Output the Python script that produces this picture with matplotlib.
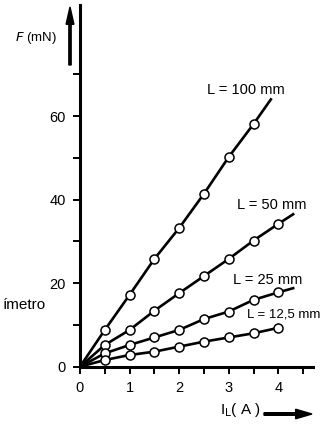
import numpy as np
import matplotlib.pyplot as plt

plt.rcParams['font.family'] = ['Liberation Sans', 'DejaVu Sans']

# Corriente medida (A) y fuerza (mN) para cada longitud de conductor
corriente = [0.5, 1.0, 1.5, 2.0, 2.5, 3.0, 3.5, 4.0]
f_100 = [8.8, 17.2, 25.8, 33.2, 41.4, 50.2, 58.1]
f_50 = [5.2, 8.8, 13.4, 17.6, 21.7, 25.8, 30.2, 34.2]
f_25 = [3.2, 5.2, 7.0, 8.8, 11.4, 13.2, 16.0, 17.8]
f_12 = [1.6, 2.8, 3.6, 4.8, 6.0, 7.0, 8.0, 9.3]

# extremo de cada recta ajustada (I, F)
fin_100 = (3.85, 64.0)
fin_50 = (4.3, 36.5)
fin_25 = (4.3, 18.8)
fin_12 = (4.0, 9.3)

series = [
    (f_100, fin_100, "L = 100 mm", (3.35, 66.3), 'center', 10.5),
    (f_50, fin_50, "L = 50 mm", (3.86, 38.7), 'center', 10.5),
    (f_25, fin_25, "L = 25 mm", (3.78, 20.8), 'center', 10.5),
    (f_12, fin_12, "L = 12,5 mm", (3.36, 12.6), 'left', 9.5),
]

fig = plt.figure(figsize=(3.27, 4.32), dpi=100)
ax = fig.add_axes([80/327, 65.3/432, 233/327, 361.7/432])

for fuerza, fin, etiqueta, pos, ha, fs in series:
    xs = [0] + corriente[:len(fuerza)] + [fin[0]]
    ys = [0] + fuerza + [fin[1]]
    ax.plot(xs, ys, color='black', lw=1.9, marker='o', ms=6.5,
            mfc='white', mec='black', mew=1.1,
            markevery=list(range(1, len(xs) - 1)))
    ax.text(pos[0], pos[1], etiqueta, ha=ha, va='center', fontsize=fs,
            clip_on=False)

ax.set_xlim(0, 4.7)
ax.set_ylim(0, 86.6)
ax.set_xticks(np.arange(0, 4.6, 0.5))
ax.set_xticklabels(['0', '', '1', '', '2', '', '3', '', '4', ''])
ax.set_yticks(np.arange(0, 71, 10))
ax.set_yticklabels(['0', '', '20', '', '40', '', '60', ''])
ax.tick_params(direction='out', length=5, width=1.4, labelsize=10.5, pad=5)
ax.spines['top'].set_visible(False)
ax.spines['right'].set_visible(False)
ax.spines['left'].set_linewidth(2.2)
ax.spines['bottom'].set_linewidth(2.2)

# rotulos de los ejes con flechas
fig.text(36/327, 1 - 38/432, "$F$ (mN)", ha='center', va='center', fontsize=9.5)
fig.patches.append(plt.matplotlib.patches.FancyArrow(
    70/327, 1 - 65/432, 0, 58/432, width=0.007, head_width=0.024,
    head_length=0.04, color='black', transform=fig.transFigure,
    length_includes_head=True))
fig.text(240/327, 1 - 410/432, "I$_\\mathrm{L}$( A )", ha='center', va='center',
         fontsize=11)
fig.patches.append(plt.matplotlib.patches.FancyArrow(
    264/327, 1 - 414/432, 48/327, 0, width=0.006, head_width=0.022,
    head_length=0.05, color='black', transform=fig.transFigure,
    length_includes_head=True))
fig.text(46/327, 1 - 305/432, "ímetro", ha='right', va='center', fontsize=11)

fig.savefig("out.png", dpi=100)
